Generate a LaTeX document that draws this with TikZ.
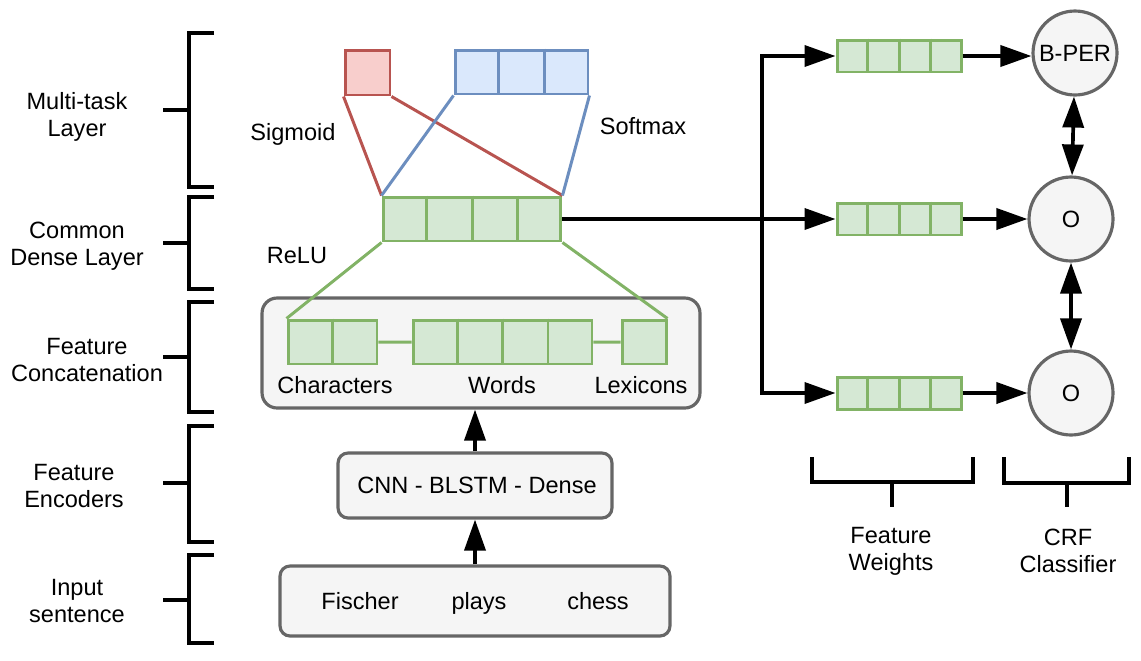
\documentclass[tikz,border=0pt]{standalone}
\usepackage{fontspec}
\setmainfont{Liberation Sans}
\usetikzlibrary{arrows.meta,calc}
\definecolor{gline}{HTML}{82B366}
\definecolor{gfill}{HTML}{D5E8D4}
\definecolor{rline}{HTML}{B85450}
\definecolor{rfill}{HTML}{F8CECC}
\definecolor{bline}{HTML}{6C8EBF}
\definecolor{bfill}{HTML}{DAE8FC}
\definecolor{kline}{HTML}{666666}
\definecolor{kfill}{HTML}{F5F5F5}
\begin{document}
\begin{tikzpicture}[x=0.02cm,y=-0.02cm,>={Triangle[length=0.62cm,width=0.42cm]},font=\fontsize{13.4}{15.3}\selectfont]
	\tikzset{vec/.style={draw=gline,fill=gfill,line width=1.7pt,inner sep=0pt,minimum height=0.88cm},
		box/.style={draw=kline,fill=kfill,line width=1.8pt,inner sep=0pt,rounded corners=0.2cm},
		circ/.style={circle,draw=kline,fill=kfill,line width=1.8pt,inner sep=0pt,minimum size=1.68cm},
		lab/.style={align=center,inner sep=1pt},
		wd/.style={inner sep=1pt,text height=0.72em,text depth=0pt},
		brk/.style={line width=2.1pt},
		arr/.style={->,line width=2.1pt},
		dbl/.style={<->,line width=2.1pt}}
	\useasboundingbox (0,0) rectangle (1141,660);
	
	% Boxes for the input and the encoders
	\path (481,353) node[box,rounded corners=0.3cm,minimum width=8.76cm,minimum height=2.2cm] (concat){}
	(475,485.5) node[box,minimum width=5.48cm,minimum height=1.3cm] (cnn){}
	(475,601) node[box,minimum width=7.8cm,minimum height=1.4cm] (inp){};
	
	% Vectors
	\path (367.5,72.5) node[vec,draw=rline,fill=rfill,minimum width=0.9cm,minimum height=0.9cm] (sig){}
	(521.5,72) node[vec,draw=bline,fill=bfill,minimum width=2.66cm] (soft){}
	(472,219) node[vec,minimum width=3.56cm] (dense){}
	(332.5,342) node[vec,minimum width=1.78cm] (chars){}
	(502.5,342) node[vec,minimum width=3.58cm] (words){}
	(644,342) node[vec,minimum width=0.88cm] (lex){}
	(899,56) node[vec,minimum width=2.48cm,minimum height=0.64cm] (fw1){}
	(899,219) node[vec,minimum width=2.48cm,minimum height=0.64cm] (fw2){}
	(899,393) node[vec,minimum width=2.48cm,minimum height=0.64cm] (fw3){};
	
	% Cell borders inside the vectors
	\foreach \v/\n/\c in {soft/3/bline,dense/4/gline,chars/2/gline,words/4/gline,fw1/4/gline,fw2/4/gline,fw3/4/gline}{
		\pgfmathtruncatemacro\m{\n-1}
		\foreach \i in {1,...,\m}
		\draw[\c,line width=1.7pt] ($(\v.north west)!\i/\n!(\v.north east)$) -- ($(\v.south west)!\i/\n!(\v.south east)$);
	}
	
	% CRF nodes
	\path (1075,53) node[circ] (B){B-PER}
	(1071,219) node[circ] (O1){O}
	(1071,393) node[circ] (O2){O};
	
	% Texts
	\path (360,603) node[wd] (t1){Fischer}
	(479,603) node[wd] (t2){plays}
	(598,603) node[wd] (t3){chess}
	(477,487) node[wd] (tcnn){CNN - BLSTM - Dense}
	(335,387) node[wd] (tch){Characters}
	(502,387) node[wd] (two){Words}
	(641,387) node[wd] (tlx){Lexicons}
	(293,134) node[wd] (tsig){Sigmoid}
	(643,128) node[wd] (tsoft){Softmax}
	(297,257) node[wd] (trelu){ReLU}
	(891,551) node[lab] (tfw){Feature\\Weights}
	(1068,551) node[lab] (tcrf){CRF\\Classifier};
	
	% Layer names on the left
	\path (77,117) node[lab] (L1){Multi-task\\Layer}
	(77,246) node[lab] (L2){Common\\Dense Layer}
	(87,360) node[lab] (L3){Feature\\Concatenation}
	(74,486) node[lab] (L4){Feature\\Encoders}
	(77,601) node[lab] (L5){Input\\sentence};
	
	% Brackets
	\draw[brk] (214,33) -- (189,33) -- (189,187) -- (214,187) (189,110) -- (163,110);
	\draw[brk] (214,197) -- (189,197) -- (189,289) -- (214,289) (189,243) -- (163,243);
	\draw[brk] (214,302) -- (189,302) -- (189,412) -- (214,412) (189,357) -- (163,357);
	\draw[brk] (214,426) -- (189,426) -- (189,542) -- (214,542) (189,483) -- (163,483);
	\draw[brk] (214,555) -- (189,555) -- (189,643) -- (214,643) (189,600) -- (163,600);
	\draw[brk] (812,457) -- (812,482) -- (973,482) -- (973,457) (892,482) -- (892,507);
	\draw[brk] (1004,457) -- (1004,483) -- (1129,483) -- (1129,457) (1067,483) -- (1067,507);
	
	% Links between the layers
	\draw[rline,line width=1.7pt] (sig.south west) -- (dense.north west)
	(sig.south east) -- (dense.north east);
	\draw[bline,line width=1.7pt] (soft.south west) -- (dense.north west)
	(soft.south east) -- (dense.north east);
	\draw[gline,line width=1.7pt] (dense.south west) -- (chars.north west)
	(dense.south east) -- (lex.north east)
	(chars.east) -- (words.west)
	(words.east) -- (lex.west);
	
	% Arrows
	\draw[arr] (inp.north) -- (cnn.south);
	\draw[arr] (cnn.north) -- (cnn.north|-concat.south);
	\coordinate (jn) at (762,219);
	\draw[arr] (dense.east) -- (fw2.west);
	\draw[arr] (jn) |- (fw1.west);
	\draw[arr] (jn) |- (fw3.west);
	\draw[arr] (fw1.east) -- (fw1.east-|B.west);
	\draw[arr] (fw2.east) -- (O1.west);
	\draw[arr] (fw3.east) -- (O2.west);
	\draw[dbl] (B) -- (O1);
	\draw[dbl] (O1) -- (O2);
\end{tikzpicture}
\end{document}
